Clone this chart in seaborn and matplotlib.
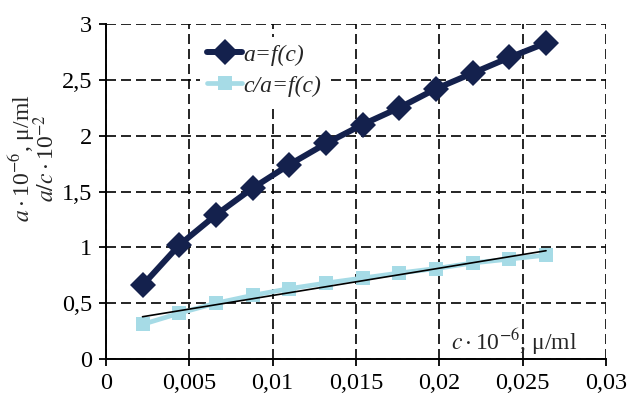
import numpy as np
import pandas as pd
import seaborn as sns
import matplotlib.pyplot as plt
from matplotlib.ticker import MultipleLocator, FuncFormatter

# concentration c*10^-6, ug/ml
c = [0.0022, 0.0044, 0.0066, 0.0088, 0.0110, 0.0132,
     0.0154, 0.0176, 0.0198, 0.0220, 0.0242, 0.0264]
# a = f(c)
a_vals = [0.66, 1.02, 1.29, 1.53, 1.74, 1.93, 2.10, 2.25, 2.42, 2.56, 2.70, 2.83]
# c/a = f(c)
ca_vals = [0.31, 0.41, 0.50, 0.57, 0.63, 0.68, 0.725, 0.77, 0.81, 0.86, 0.895, 0.93]

sns.set_style("white")
plt.rcParams['font.family'] = ['Liberation Serif', 'DejaVu Serif']
plt.rcParams['mathtext.fontset'] = 'stix'

df = pd.DataFrame({'c': c, 'a': a_vals, 'ca': ca_vals})

fig = plt.figure(figsize=(6.3, 3.96), dpi=100)
ax = fig.add_axes([0.168, 0.0934, 0.794, 0.846])

navy = '#14214d'
light = '#a6dbe6'

sns.lineplot(data=df, x='c', y='a', ax=ax, color=navy, lw=4.3, marker='D',
             markersize=13.5, markeredgewidth=0, label='a=f(c)')
sns.lineplot(data=df, x='c', y='ca', ax=ax, color=light, lw=3.4, marker='s',
             markersize=10.5, markeredgewidth=0, label='c/a=f(c)')

# linear trend of c/a
k, b = np.polyfit(df['c'], df['ca'], 1)
ax.plot(df['c'], k * df['c'] + b, color='black', lw=1.2, zorder=5)

ax.set_xlim(0, 0.03)
ax.set_ylim(0, 3)
ax.xaxis.set_major_locator(MultipleLocator(0.005))
ax.yaxis.set_major_locator(MultipleLocator(0.5))
fmt = FuncFormatter(lambda v, p: f"{v:g}".replace('.', ','))
ax.xaxis.set_major_formatter(fmt)
ax.yaxis.set_major_formatter(fmt)

ax.grid(True, color='black', linestyle=(0, (6, 3)), lw=1.2)
ax.set_axisbelow(True)
for s in ['top', 'right']:
    ax.spines[s].set_visible(False)
for s in ['left', 'bottom']:
    ax.spines[s].set_color('black')
    ax.spines[s].set_linewidth(1.4)
ax.tick_params(axis='both', direction='out', length=5, width=1.3,
               labelsize=17.5, color='black', labelcolor='black',
               left=True, bottom=True, pad=5)

ax.set_xlabel('')
ax.set_ylabel(r'$a\cdot$10$^{-6}$, μ/ml' + '\n' + r'$a/c\cdot$10$^{-2}$',
              fontsize=17, linespacing=0.8)
ax.yaxis.set_label_coords(-0.094, 0.6)

ax.text(0.0245, 0.15, r'$c\cdot$10$^{-6}$, μ/ml', fontsize=17,
        ha='center', va='center')

leg = ax.legend(loc='upper left', bbox_to_anchor=(0.188, 0.961),
                borderaxespad=0, prop={'size': 17, 'style': 'italic'},
                frameon=True, fancybox=False, framealpha=1, edgecolor='none',
                facecolor='white', handlelength=1.5, labelspacing=0.4,
                handletextpad=0.05, borderpad=0.3)

fig.savefig('out.png', dpi=100)
